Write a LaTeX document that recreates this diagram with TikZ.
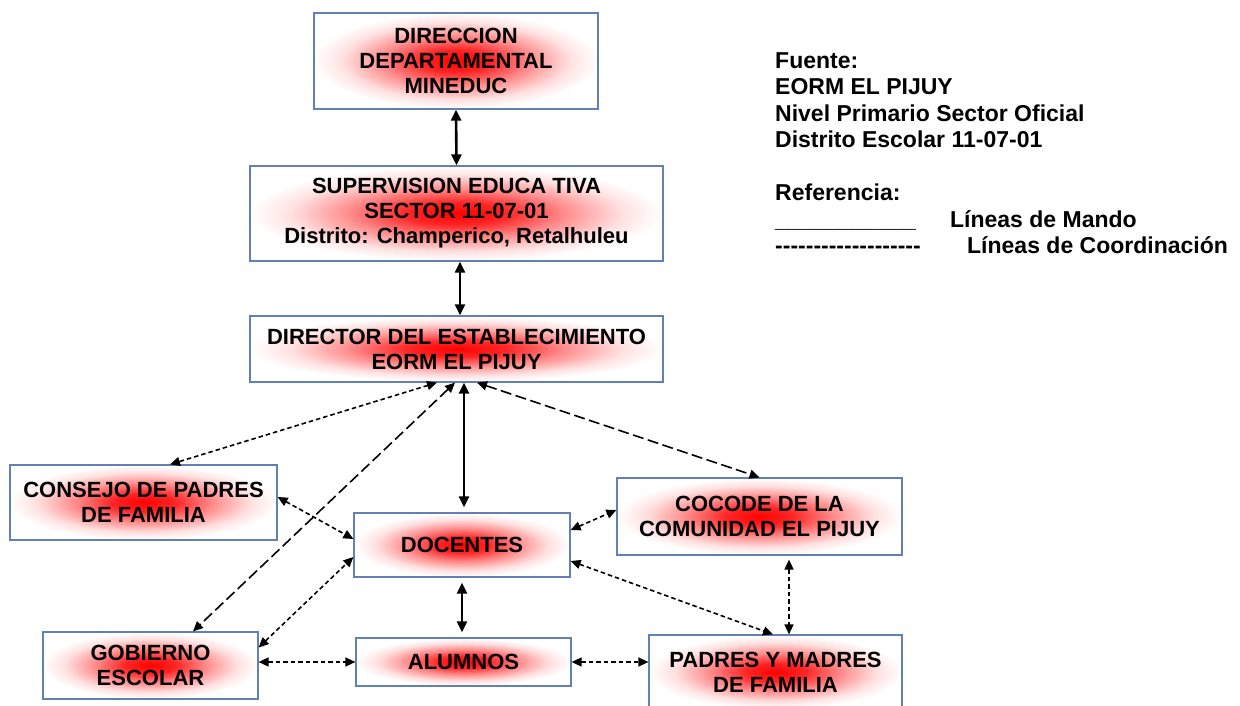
\documentclass[tikz,border=0pt]{standalone}
\usepackage{fontspec}
\setmainfont{Liberation Sans}
\usetikzlibrary{arrows.meta,calc}
\definecolor{boxblue}{RGB}{96,128,182}
\pgfdeclareradialshading{glow}{\pgfpoint{0bp}{0bp}}{color(0bp)=(red); color(6bp)=(red!85); color(13bp)=(red!45); color(20bp)=(red!12); color(25bp)=(white); color(50bp)=(white)}
\newcommand{\hy}{\mbox{-}}
\begin{document}
\begin{tikzpicture}[x=1pt,y=-1pt,
  orgbox/.style={draw=boxblue, line width=1.2pt, shade, shading=glow, align=center,
    font=\bfseries\fontsize{22}{25}\selectfont, inner sep=0pt},
  cmdline/.style={line width=2.6pt, {Triangle[length=11pt,width=10pt]}-{Triangle[length=11pt,width=10pt]}},
  coordline/.style={line width=1.6pt, dash pattern=on 4.5pt off 3pt, {Triangle[length=10pt,width=9pt]}-{Triangle[length=10pt,width=9pt]}},
  longline/.style={coordline, dash pattern=on 11pt off 4.5pt}]
\useasboundingbox (0,0) rectangle (1240,706);
\clip (0,0) rectangle (1240,706);
\fill[white] (0,0) rectangle (1240,706);

\node[orgbox, minimum width=284pt, minimum height=96pt] (dir) at (456,61) {DIRECCION\\DEPARTAMENTAL\\MINEDUC};
\node[orgbox, minimum width=413pt, minimum height=95pt] (sup) at (456.5,213.5) {SUPERVISION EDUCA TIVA\\SECTOR 11-07-01\\Distrito: Champerico, Retalhuleu};
\node[orgbox, minimum width=413pt, minimum height=66pt] (est) at (456.5,349) {DIRECTOR DEL ESTABLECIMIENTO\\EORM EL PIJUY};
\node[orgbox, minimum width=267pt, minimum height=75pt] (con) at (143.5,502.5) {CONSEJO DE PADRES\\DE FAMILIA};
\node[orgbox, minimum width=216pt, minimum height=64pt] (doc) at (462,545) {DOCENTES};
\node[orgbox, minimum width=285pt, minimum height=77pt] (coc) at (759.5,516.5) {COCODE DE LA\\COMUNIDAD EL PIJUY};
\node[orgbox, minimum width=215pt, minimum height=67pt] (gob) at (150.5,665.5) {GOBIERNO\\ESCOLAR};
\node[orgbox, minimum width=215pt, minimum height=48pt] (alu) at (463.5,662) {ALUMNOS};
\node[orgbox, minimum width=253pt, minimum height=74pt] (pad) at (775.5,672) {PADRES Y MADRES\\DE FAMILIA};

% command lines
\draw[cmdline] (dir.south) -- (sup.north);
\draw[cmdline] ([xshift=3.5pt]sup.south) -- ([xshift=3.5pt]est.north);
\draw[cmdline] ([xshift=7.5pt]est.south) -- ([xshift=2pt,yshift=5pt]doc.north);
\draw[cmdline] ([yshift=-5pt]doc.south) -- ([yshift=5pt]doc.south |- alu.north);

% coordination lines
\draw[coordline] ([xshift=-19.5pt]est.south) -- ([xshift=26.5pt]con.north);
\draw[longline] ([xshift=-1.5pt]est.south) -- ([xshift=42.5pt]gob.north);
\draw[longline] ([xshift=20.5pt]est.south) -- (coc.north);
\draw[coordline] ([yshift=5.5pt]con.east) -- ([yshift=6pt]doc.west);
\draw[coordline] ([yshift=18pt]gob.east) -- ([yshift=-12pt]doc.west);
\draw[coordline] (alu.west -| gob.east) -- (alu.west);
\draw[coordline] (alu.east) -- (alu.east -| pad.west);
\draw[coordline] ([yshift=15pt]doc.east) -- ([yshift=6.5pt]coc.west);
\draw[coordline] ([yshift=-16pt]doc.east) -- ([xshift=-2.5pt]pad.north);
\draw[coordline] ([xshift=29.5pt,yshift=-4pt]coc.south) -- ([xshift=29.5pt]coc.south |- pad.north);

% legend
\node[anchor=north west, align=left, inner sep=0pt,
  font=\bfseries\fontsize{23}{26.5}\selectfont] (leg) at (775,52)
  {Fuente:\\
   EORM EL PIJUY\\
   Nivel Primario Sector Oficial\\
   Distrito Escolar 11-07-01\\[26.5pt]
   Referencia:\\
   \makebox[175pt][l]{\_\_\_\_\_\_\_\_\_\_\_}Líneas de Mando\\
   \makebox[192pt][l]{\hy\hy\hy\hy\hy\hy\hy\hy\hy\hy\hy\hy\hy\hy\hy\hy\hy\hy\hy}Líneas de Coordinación};
\end{tikzpicture}
\end{document}
